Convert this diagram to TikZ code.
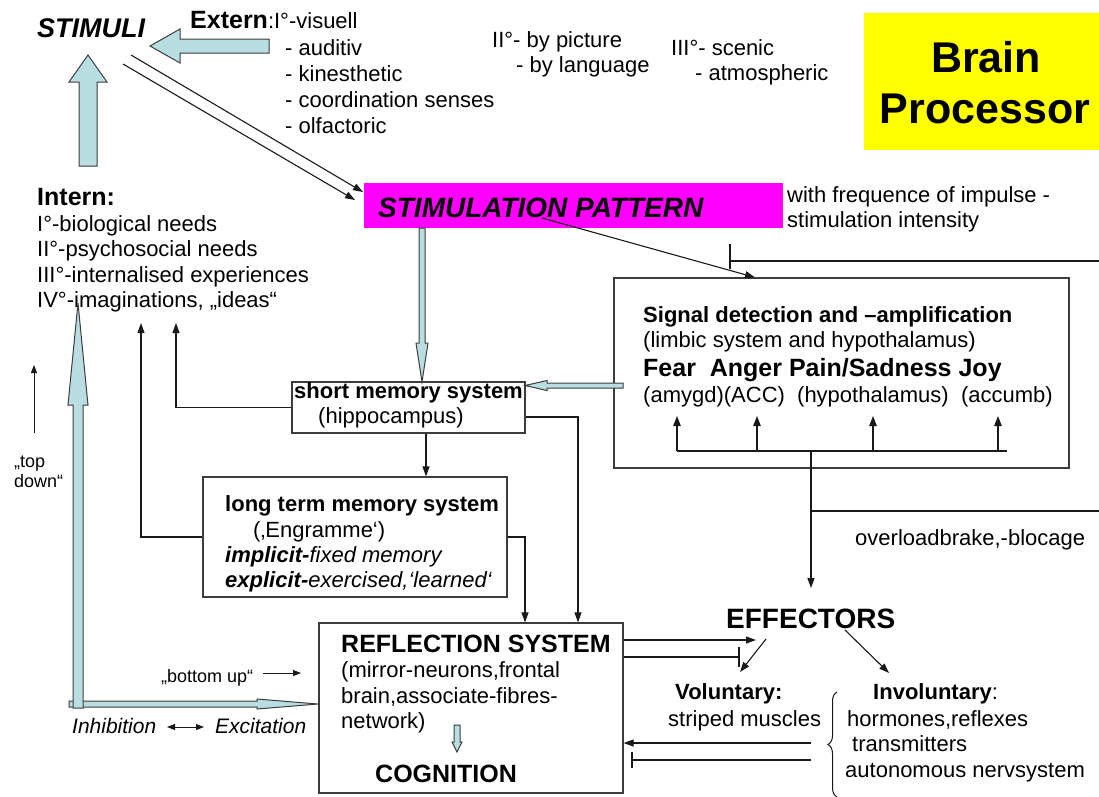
\documentclass[tikz,border=0pt]{standalone}
\usepackage{fontspec}
\setmainfont{Liberation Sans}
\usetikzlibrary{arrows.meta,decorations.pathreplacing}
\definecolor{ablue}{RGB}{185,222,226}
\definecolor{mag}{RGB}{255,0,255}
\definecolor{yel}{RGB}{255,255,0}
\definecolor{ln}{RGB}{25,25,25}
\definecolor{bx}{RGB}{60,60,60}
\newcommand\fsz[1]{\fontsize{#1}{#1}\selectfont}
\begin{document}
\begin{tikzpicture}[x=1pt,y=-1pt,
  t/.style={inner sep=0pt, anchor=base west, font=\fsz{22}},
  tc/.style={inner sep=0pt, anchor=base, font=\fsz{22}},
  box/.style={draw=bx, line width=1.2pt, inner sep=0pt, fill=white},
  arr/.style={draw=ln, line width=1.1pt, -{Triangle[length=10pt,width=7pt]}},
  midarr/.style={draw=ln, line width=1.1pt, -{Triangle[length=10pt,width=7.5pt]}},
  thinarr/.style={draw=ln, line width=0.9pt, -{Triangle[length=8pt,width=6pt]}},
  plain/.style={draw=ln, line width=1.1pt},
  barrow/.style={draw=bx, line width=1pt, fill=ablue, line join=miter}
]
\useasboundingbox (0,0) rectangle (1099,796);
\fill[white] (0,0) rectangle (1099,796);

% ---------- boxes ----------
\node[fill=yel, inner sep=0pt, minimum width=235pt, minimum height=137pt] (brain) at (981.5,81.5) {};
\node[tc, font=\fsz{43}\bfseries] (brainA) at (986,72) {Brain};
\node[tc, font=\fsz{43}\bfseries] (brainB) at (985,123) {Processor};

\node[fill=mag, inner sep=0pt, minimum width=419pt, minimum height=45pt] (pink) at (573.5,205.5) {};
\node[t, font=\fsz{28}\bfseries\itshape] (pinkt) at (378,217) {STIMULATION PATTERN};

\node[box, minimum width=455pt, minimum height=190pt] (sig) at (841.5,373) {};
\node[box, minimum width=233pt, minimum height=51pt] (short) at (408.5,407.5) {};
\node[box, minimum width=304pt, minimum height=120pt] (long) at (355,537) {};
\node[box, minimum width=304pt, minimum height=170pt] (refl) at (471,708) {};

% ---------- texts ----------
\node[t, font=\fsz{27}\bfseries\itshape] (stim) at (37,37) {STIMULI};
\node[t] (ext) at (190,28) {{\fsz{25}\bfseries Extern}:I°-visuell};
\node[t] (e1) at (285,55) {- auditiv};
\node[t] (e2) at (285,81) {- kinesthetic};
\node[t] (e3) at (285,107) {- coordination senses};
\node[t] (e4) at (285,133) {- olfactoric};
\node[t] (p1) at (492,47) {II°- by picture};
\node[t] (p2) at (516,72) {- by language};
\node[t] (s1) at (671,55) {III°- scenic};
\node[t] (s2) at (695,80) {- atmospheric};

\node[t] (freq1) at (787,202) {with frequence of impulse -};
\node[t] (freq2) at (787,227) {stimulation intensity};

\node[t, font=\fsz{25}\bfseries] (int) at (37,205) {Intern:};
\node[t] (i1) at (37,231) {I°-biological needs};
\node[t] (i2) at (37,256) {II°-psychosocial needs};
\node[t] (i3) at (37,282) {III°-internalised experiences};
\node[t] (i4) at (37,307) {IV°-imaginations, „ideas“};

\node[t, font=\fsz{22}\bfseries] (sg1) at (643,322) {Signal detection and –amplification};
\node[t] (sg2) at (643,347) {(limbic system and hypothalamus)};
\node[t, font=\fsz{25}\bfseries] (sg3) at (643,376) {Fear\ \ Anger Pain/Sadness Joy};
\node[t] (sg4) at (643,402) {(amygd)(ACC)\ \ (hypothalamus)\ \ (accumb)};

\node[t, font=\fsz{22}\bfseries] (sh1) at (294,398) {short memory system};
\node[t] (sh2) at (318,423) {(hippocampus)};

\node[t, font=\fsz{22}\bfseries] (lg1) at (225,511) {long term memory system};
\node[t] (lg2) at (253,537) {(‚Engramme‘)};
\node[t] (lg3) at (225,562) {{\bfseries\itshape implicit-}{\itshape fixed memory}};
\node[t] (lg4) at (225,587) {{\bfseries\itshape explicit-}{\itshape exercised,‘learned‘}};

\node[t, font=\fsz{25}\bfseries] (rf1) at (341,652) {REFLECTION SYSTEM};
\node[t] (rf2) at (341,677) {(mirror-neurons,frontal};
\node[t] (rf3) at (341,703) {brain,associate-fibres-};
\node[t] (rf4) at (341,728) {network)};
\node[t, font=\fsz{25}\bfseries] (cog) at (375,782) {COGNITION};

\node[t, font=\fsz{28}\bfseries] (eff) at (726,628) {EFFECTORS};
\node[t, font=\fsz{22}\bfseries] (vol) at (675,699) {Voluntary:};
\node[t] (vol2) at (668,726) {striped muscles};
\node[t] (inv) at (873,699) {{\bfseries Involuntary}:};
\node[t] (inv1) at (847,726) {hormones,reflexes};
\node[t] (inv2) at (852,751) {transmitters};
\node[t] (inv3) at (845,777) {autonomous nervsystem};
\node[t] (over) at (855,545) {overloadbrake,-blocage};

\node[t, font=\fsz{18}] (td1) at (14,467) {„top};
\node[t, font=\fsz{18}] (td2) at (14,487) {down“};
\node[t, font=\fsz{18}] (bu) at (161,682) {„bottom up“};
\node[t, font=\fsz{21}\itshape] (inh) at (72,733) {Inhibition};
\node[t, font=\fsz{21}\itshape] (exc) at (215,733) {Excitation};

% ---------- block arrows ----------
\draw[barrow] (150,46) -- (180,29) -- (180,39) -- (269,39) -- (269,53) -- (180,53) -- (180,63) -- cycle;
\draw[barrow] (88,55) -- (107,82) -- (97,82) -- (97,166) -- (79,166) -- (79,82) -- (69,82) -- cycle;
\draw[barrow] (422,382) -- (428,343) -- (425,343) -- (425,228) -- (419,228) -- (419,343) -- (416,343) -- cycle;
\draw[barrow] (525,385.5) -- (547,380.5) -- (547,383) -- (623,383) -- (623,388) -- (547,388) -- (547,390.5) -- cycle;
\draw[barrow] (69,701) -- (257,701) -- (257,699) -- (318,704) -- (257,709) -- (257,707) -- (69,707) -- cycle;
\draw[barrow] (78,303) -- (88,405) -- (83,405) -- (83,708) -- (73,708) -- (73,405) -- (68,405) -- cycle;
\draw[barrow] (457,752) -- (462,742) -- (460,742) -- (460,725) -- (454,725) -- (454,742) -- (452,742) -- cycle;

% ---------- connectors ----------
\coordinate (sA) at (131,55); \coordinate (sB) at (123,64);
\coordinate (pA) at (363,192); \coordinate (pB) at (355,200);
\draw[arr] (sA) -- (pA);
\draw[arr] (sB) -- (pB);

\coordinate (pinkO) at (542,218);
\draw[arr] (pinkO) -- (sig.north -| 755,0);

\coordinate (fbR) at (1099,261);
\draw[plain] (fbR) -- (730,261);
\draw[plain] (730,244) -- (730,269);

% internal signal tree
\coordinate (hub) at (811,451);
\draw[plain] (677,451) -- (1007,451);
\draw[midarr] (677,451) -- (677,416);
\draw[midarr] (757,451) -- (757,416);
\draw[midarr] (873,451) -- (873,416);
\draw[midarr] (998,451) -- (998,416);
\coordinate (effT) at (811,588);
\draw[arr] (hub) -- (effT);
\coordinate (ovR) at (1099,511);
\draw[plain] (811,511) -- (ovR);

% memory connections
\coordinate (upA) at (176,323);
\coordinate (upB) at (141,323);
\draw[arr] (short.west) -| (upA);
\draw[arr] (long.west) -| (upB);
\draw[arr] (short.south -| 426,0) -- (long.north -| 426,0);
\draw[arr] (short.east |- 0,417) -| (refl.north -| 578,0);
\draw[arr] (long.east) -| (refl.north -| 525,0);

% reflection -> effectors
\coordinate (vA) at (756,640);
\draw[arr] (refl.east |- 0,640) -- (vA);
\draw[plain] (refl.east |- 0,657) -- (739,657);
\draw[plain] (739,647) -- (739,667);
\coordinate (eV1) at (766,639); \coordinate (eV2) at (740,672);
\draw[arr] (eV1) -- (eV2);
\coordinate (eI1) at (845,630); \coordinate (eI2) at (889,673);
\draw[arr] (eI1) -- (eI2);

% involuntary -> reflection
\coordinate (iA) at (811,743); \coordinate (iB) at (811,760);
\draw[arr] (iA) -- (refl.east |- iA);
\draw[plain] (iB) -- (632,760);
\draw[plain] (632,752) -- (632,768);
\draw[draw=ln, line width=1pt, decorate, decoration={brace, amplitude=9pt}] (837,797) -- (837,692);

% small annotation arrows
\coordinate (tdA) at (34,433); \coordinate (tdB) at (34,365);
\draw[thinarr] (tdA) -- (tdB);
\coordinate (buA) at (263,673); \coordinate (buB) at (301,673);
\draw[thinarr] (buA) -- (buB);
\coordinate (ieA) at (167,727); \coordinate (ieB) at (204,727);
\draw[draw=ln, line width=0.9pt, {Triangle[length=8pt,width=6pt]}-{Triangle[length=8pt,width=6pt]}] (ieA) -- (ieB);
\end{tikzpicture}
\end{document}
